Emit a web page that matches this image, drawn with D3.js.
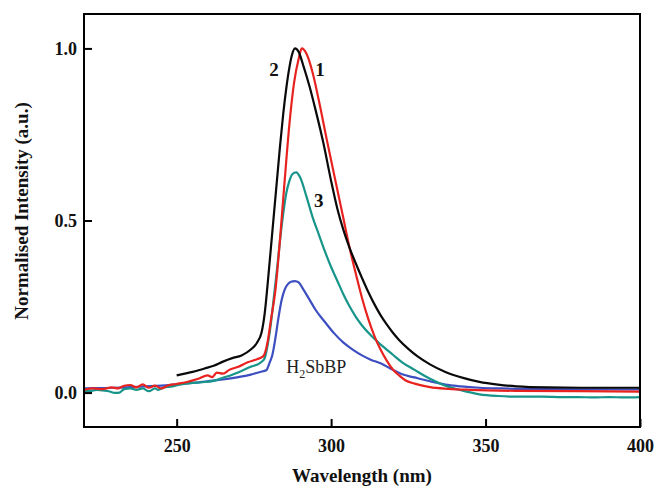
<!DOCTYPE html>
<html>
<head>
<meta charset="utf-8">
<script src="https://cdn.jsdelivr.net/npm/d3@7"></script>
<style>
  html, body { margin: 0; padding: 0; background: #fff; }
  svg { display: block; }
  text { font-family: "Liberation Serif", "Times New Roman", serif; }
</style>
</head>
<body>
<svg id="chart" width="654" height="486"></svg>
<script>
// ---- data ----
const xTicks = [250, 300, 350, 400];
const yTicks = [0.0, 0.5, 1.0];

// Curve 1 (red)
const wl1 = [220,223,226,229,231,233,235,237,239,241,243,245,247,250,253,257,260,261.5,263,265,267,270,273,276,278,279.5,280.5,282,283.5,285,286.5,288,289.5,290.5,292,294,296,298.6,300,302,304,306,308,310,312,314,316,318,320,322,324,327,332,338,345,360,380,400];
const int1 = [0.008,0.012,0.010,0.015,0.012,0.020,0.022,0.015,0.024,0.014,0.020,0.012,0.020,0.025,0.030,0.040,0.050,0.045,0.058,0.055,0.066,0.075,0.088,0.097,0.105,0.150,0.210,0.300,0.450,0.620,0.780,0.900,0.970,1.000,0.985,0.930,0.850,0.735,0.675,0.590,0.505,0.420,0.345,0.275,0.215,0.165,0.125,0.093,0.067,0.050,0.036,0.026,0.016,0.011,0.008,0.005,0.004,0.003];

// Curve 2 (black)
const wl2 = [250,253,256,259,262,265,268,271,274,276,277.5,278.5,279.5,280.5,281.5,282.5,283.5,284.5,285.5,286.5,287.3,288.3,289.5,291,293,295,297.5,300,302,304,306,308,310,312,314,316,318,320,322,325,328,332,337,343,348,354,360,370,385,400];
const int2 = [0.050,0.056,0.062,0.070,0.078,0.090,0.100,0.108,0.125,0.145,0.175,0.230,0.320,0.420,0.520,0.620,0.720,0.810,0.885,0.945,0.980,1.000,0.990,0.950,0.890,0.820,0.725,0.615,0.535,0.472,0.420,0.375,0.333,0.293,0.257,0.225,0.198,0.174,0.153,0.127,0.105,0.082,0.060,0.042,0.031,0.023,0.018,0.015,0.014,0.014];

// Curve 3 (teal)
const wl3 = [220,222,224,226,228,230,231.5,233,235,237,239,241,243,244,246,248,251,255,258,262,265,268,271,274,277,278.5,279.5,280.5,281.5,282.5,283.5,284.5,285.5,286.5,287.5,288.7,290,292,294,296,298,300,302,304,306,308,310,313,316,320,323,327,332,337,342,348,354,360,368,375,380,385,390,395,400];
const int3 = [0.005,0.004,0.008,0.006,0.004,-0.001,0.000,0.010,0.012,0.008,0.012,0.004,0.012,0.008,0.015,0.017,0.023,0.028,0.030,0.034,0.043,0.052,0.063,0.075,0.086,0.100,0.140,0.200,0.280,0.360,0.445,0.520,0.580,0.615,0.635,0.640,0.625,0.570,0.510,0.460,0.410,0.365,0.325,0.285,0.250,0.220,0.195,0.165,0.140,0.110,0.088,0.066,0.040,0.020,0.007,-0.005,-0.010,-0.012,-0.012,-0.013,-0.013,-0.014,-0.013,-0.014,-0.013];

// H2SbBP (blue)
const wl4 = [220,225,230,235,240,245,250,255,260,265,270,274,277,279,280,281,282,283,284,285,286,287,288.3,289.5,291,293,295,298,301,304,307,310,313,316,320,323,327,332,337,342,348,355,370,400];
const int4 = [0.012,0.013,0.014,0.016,0.018,0.020,0.024,0.028,0.033,0.038,0.045,0.052,0.060,0.065,0.085,0.110,0.160,0.220,0.270,0.300,0.315,0.322,0.324,0.320,0.300,0.270,0.240,0.205,0.172,0.145,0.125,0.108,0.095,0.085,0.066,0.053,0.044,0.033,0.023,0.018,0.014,0.012,0.010,0.009];

const seriesNames = ["1", "2", "3", "H2SbBP"];
const seriesColors = ["#e8231f", "#0a0a0a", "#17958a", "#3d4ec0"];

// ---- chart ----
const svg = d3.select("#chart");
const L = 84, R = 640, T = 14, B = 427;

const x = d3.scaleLinear().domain([220, 400]).range([L, R]);
const y = d3.scaleLinear().domain([-0.1, 1.1]).range([B, T]);

const series = [
  {name: seriesNames[0], wl: wl1, v: int1, color: seriesColors[0]},
  {name: seriesNames[1], wl: wl2, v: int2, color: seriesColors[1]},
  {name: seriesNames[2], wl: wl3, v: int3, color: seriesColors[2]},
  {name: seriesNames[3], wl: wl4, v: int4, color: seriesColors[3]}
];

const line = d3.line()
  .x(d => x(d[0]))
  .y(d => y(d[1]))
  .curve(d3.curveMonotoneX);

svg.append("clipPath").attr("id", "plotclip")
  .append("rect").attr("x", L).attr("y", T).attr("width", R - L).attr("height", B - T);

const plot = svg.append("g").attr("clip-path", "url(#plotclip)");
// draw order: blue, teal, red, black
[3, 2, 0, 1].forEach(i => {
  const s = series[i];
  plot.append("path")
    .datum(s.wl.map((w, k) => [w, s.v[k]]))
    .attr("fill", "none")
    .attr("stroke", s.color)
    .attr("stroke-width", 2.2)
    .attr("stroke-linejoin", "round")
    .attr("d", line);
});

// axes
const xAxis = d3.axisBottom(x).tickValues(xTicks).tickSizeInner(-8).tickSizeOuter(0).tickPadding(12)
  .tickFormat(d3.format("d"));
const gx = svg.append("g").attr("transform", `translate(0,${B})`).call(xAxis);
gx.select(".domain").remove();
gx.selectAll(".tick line").attr("stroke", "#000").attr("stroke-width", 2);
gx.selectAll(".tick text").attr("font-size", 18).attr("font-weight", "bold").attr("fill", "#111")
  .attr("font-family", "Liberation Serif, serif");

const yAxis = d3.axisLeft(y).tickValues(yTicks).tickSizeInner(-8).tickSizeOuter(0).tickPadding(7)
  .tickFormat(d3.format(".1f"));
const gy = svg.append("g").attr("transform", `translate(${L},0)`).call(yAxis);
gy.select(".domain").remove();
gy.selectAll(".tick line").attr("stroke", "#000").attr("stroke-width", 2);
gy.selectAll(".tick text").attr("font-size", 18).attr("font-weight", "bold").attr("fill", "#111")
  .attr("font-family", "Liberation Serif, serif");

// frame
svg.append("rect").attr("x", L).attr("y", T).attr("width", R - L).attr("height", B - T)
  .attr("fill", "none").attr("stroke", "#000").attr("stroke-width", 2);

// axis titles
svg.append("text").attr("x", 362).attr("y", 482).attr("text-anchor", "middle")
  .attr("font-size", 19).attr("font-weight", "bold").attr("fill", "#111")
  .text("Wavelength (nm)");
svg.append("text").attr("transform", "translate(28,211) rotate(-90)").attr("text-anchor", "middle")
  .attr("font-size", 19).attr("font-weight", "bold").attr("fill", "#111")
  .text("Normalised Intensity (a.u.)");

// curve labels
const lab = (txt, wl, v) => svg.append("text").attr("x", x(wl)).attr("y", y(v))
  .attr("text-anchor", "middle").attr("font-size", 19).attr("font-weight", "bold").attr("fill", "#111").text(txt);
lab("2", 281.5, 0.92);
lab("1", 296.4, 0.92);
lab("3", 296.0, 0.54);

const h = svg.append("text").attr("x", x(285.5)).attr("y", y(0.058)).attr("font-size", 18).attr("fill", "#222");
h.append("tspan").text("H");
h.append("tspan").attr("dy", 5).attr("font-size", 12).text("2");
h.append("tspan").attr("dy", -5).text("SbBP");
</script>
</body>
</html>
